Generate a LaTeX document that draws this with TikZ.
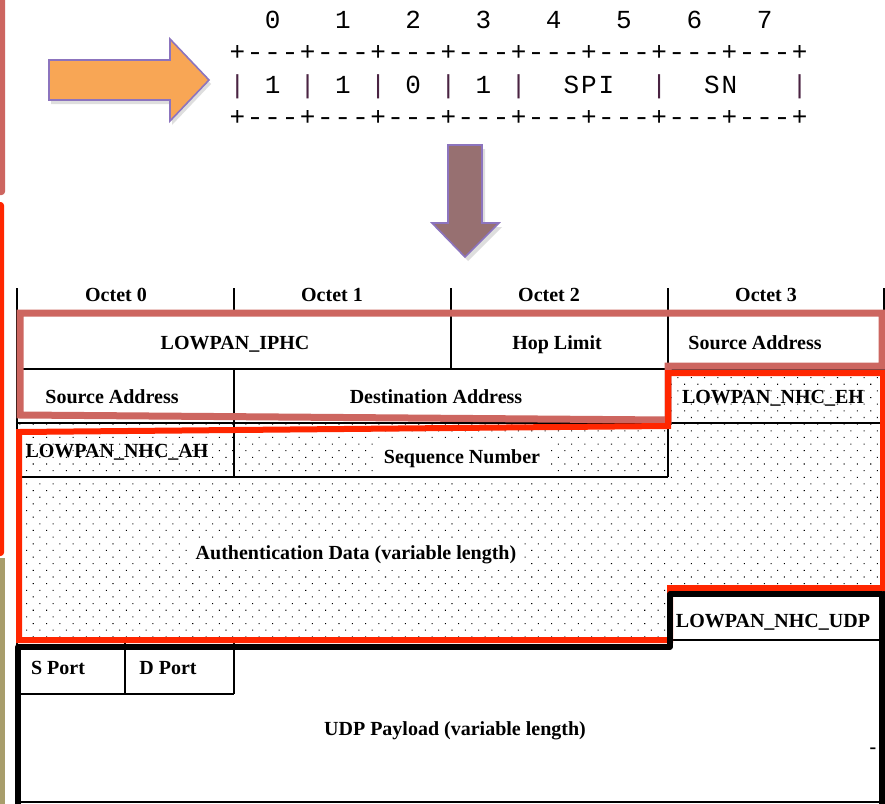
\documentclass[tikz,border=0pt]{standalone}
\usepackage{graphicx}
\usepackage{fontspec}
\setmainfont{Liberation Serif}
\newfontfamily\asciifont{Liberation Mono}
\usetikzlibrary{patterns.meta}
\definecolor{salmonc}{HTML}{CD6660}
\definecolor{redc}{HTML}{FF2600}
\definecolor{olivec}{HTML}{A89D6B}
\definecolor{orangec}{HTML}{F8A655}
\definecolor{mauvec}{HTML}{977071}
\definecolor{arrowedge}{HTML}{8C74BE}
\definecolor{barc}{HTML}{4A2342}
\begin{document}
\begin{tikzpicture}[x=0.75pt,y=-0.75pt,
  lbl/.style={font=\bfseries\fontsize{15}{18}\selectfont, inner sep=0pt, anchor=base},
  wlbl/.style={lbl, fill=white, inner xsep=5pt, inner ysep=5pt},
  asc/.style={font=\asciifont\fontsize{19.5}{22}\selectfont, inner sep=0pt, anchor=base},
  barch/.style={asc, text=barc},
  cell/.style={draw=black, line width=0.9pt},
  dotarea/.style={pattern={Dots[distance=7.05pt,radius=0.55pt,angle=45]}, pattern color=black},
  blockarrow/.style={draw=arrowedge, line width=1.2pt, line join=miter},
  shade/.style={fill=black, opacity=0.13}]
\useasboundingbox (0,0) rectangle (885,803);
\fill[white] (0,0) rectangle (885,803);
% left strips
\fill[salmonc, rounded corners=2.5] (-6,-6) rectangle (5,195);
\fill[redc, rounded corners=2.5] (-6,202) rectangle (4,556);
\fill[olivec] (-6,558) rectangle (5,810);
% orange arrow
\fill[shade] (51,64) -- (172,64) -- (172,43) -- (211,84) -- (172,125) -- (172,104) -- (51,104) -- cycle;
\filldraw[blockarrow, fill=orangec] (49,60) -- (170,60) -- (170,39) -- (209,80) -- (170,121) -- (170,100) -- (49,100) -- cycle;
% down arrow
\fill[shade] (451,149) -- (485,149) -- (485,227) -- (502,227) -- (468,261) -- (435,227) -- (451,227) -- cycle;
\filldraw[blockarrow, fill=mauvec] (448,145) -- (482,145) -- (482,223) -- (499,223) -- (465,257) -- (432,223) -- (448,223) -- cycle;
% ASCII header
\foreach \k in {0,...,7} \node[asc] (num\k) at ({237.5+17.57*(4*\k+2)},28) {\k};
\foreach \k in {0,...,8} {
  \node[asc] (tplus\k) at ({237.5+70.28*\k},60) {+};
  \node[asc] (bplus\k) at ({237.5+70.28*\k},125) {+};
}
\foreach \k in {0,...,7} \foreach \j in {1,2,3} {
  \node[asc] (tdash\k\j) at ({237.5+17.57*(4*\k+\j)},60) {\scalebox{1.12}[1]{-}};
  \node[asc] (bdash\k\j) at ({237.5+17.57*(4*\k+\j)},125) {\scalebox{1.12}[1]{-}};
}
\foreach \b in {0,4,8,12,16,24,32} \node[barch] (vbar\b) at ({237.5+17.57*\b},93) {|};
\foreach \c/\i in {1/2,1/6,0/10,1/14,S/19,P/20,I/21,S/27,N/28} \node[asc] (ch\i) at ({237.5+17.57*\i},93) {\c};
% dotted area
\fill[dotarea] (17,423) -- (668,423) -- (668,369) -- (884,369) -- (884,587) -- (668,587) -- (668,640) -- (17,640) -- cycle;
% table lines
\foreach \x in {17,234,451,668,884} \draw[cell] (\x,288) -- (\x,313);
\draw[cell] (17,313) rectangle (884,369);
\draw[cell] (451,313) -- (451,369);
\draw[cell] (668,313) -- (668,369);
\draw[cell] (17,369) -- (17,803);
\draw[cell] (884,369) -- (884,803);
\draw[cell] (234,369) -- (234,477);
\draw[cell] (668,369) -- (668,477);
\draw[cell] (17,423) -- (884,423);
\draw[cell] (17,477) -- (668,477);
\draw[cell] (668,587) -- (884,587);
\draw[cell] (668,587) -- (668,640);
\draw[cell] (17,640) -- (884,640);
\draw[cell] (125,640) -- (125,694);
\draw[cell] (234,640) -- (234,694);
\draw[cell] (17,694) -- (234,694);
\draw[cell] (17,802) -- (884,802);
% labels
\node[lbl] (oct0) at (116,301) {Octet 0};
\node[lbl] (oct1) at (332,301) {Octet 1};
\node[lbl] (oct2) at (549,301) {Octet 2};
\node[lbl] (oct3) at (766,301) {Octet 3};
\node[lbl] (iphc) at (235,349) {LOWPAN\_IPHC};
\node[lbl] (hop) at (557,349) {Hop Limit};
\node[lbl] (srcA) at (755,349) {Source Address};
\node[lbl] (srcB) at (112,403) {Source Address};
\node[lbl] (dst) at (436,403) {Destination Address};
\node[lbl] (eh) at (773,403) {LOWPAN\_NHC\_EH};
\node[lbl] (ah) at (117,457) {LOWPAN\_NHC\_AH};
\node[wlbl] (seq) at (462,463) {Sequence Number};
\node[wlbl] (auth) at (356,559) {Authentication Data (variable length)};
\node[lbl] (udpnhc) at (773,627) {LOWPAN\_NHC\_UDP};
\node[lbl] (sport) at (58,674) {S Port};
\node[lbl] (dport) at (168,674) {D Port};
\node[lbl] (payload) at (455,735) {UDP Payload (variable length)};
\node[lbl] (dash) at (873,753) {-};
% highlight outlines
\draw[salmonc, line width=5.25pt, line join=miter] (20,313) -- (882,313) -- (882,366) -- (668,366) -- (668,420) -- (20,415) -- cycle;
\draw[redc, line width=4.5pt, line join=miter] (668,373) -- (883,373) -- (883,588) -- (670,588) -- (670,640) -- (19,640) -- (19,432) -- (668,426) -- cycle;
\draw[black, line width=4.3pt, line join=round] (882,812) -- (882,594) -- (670,594) -- (670,647) -- (18,647) -- (18,812);
\end{tikzpicture}
\end{document}
